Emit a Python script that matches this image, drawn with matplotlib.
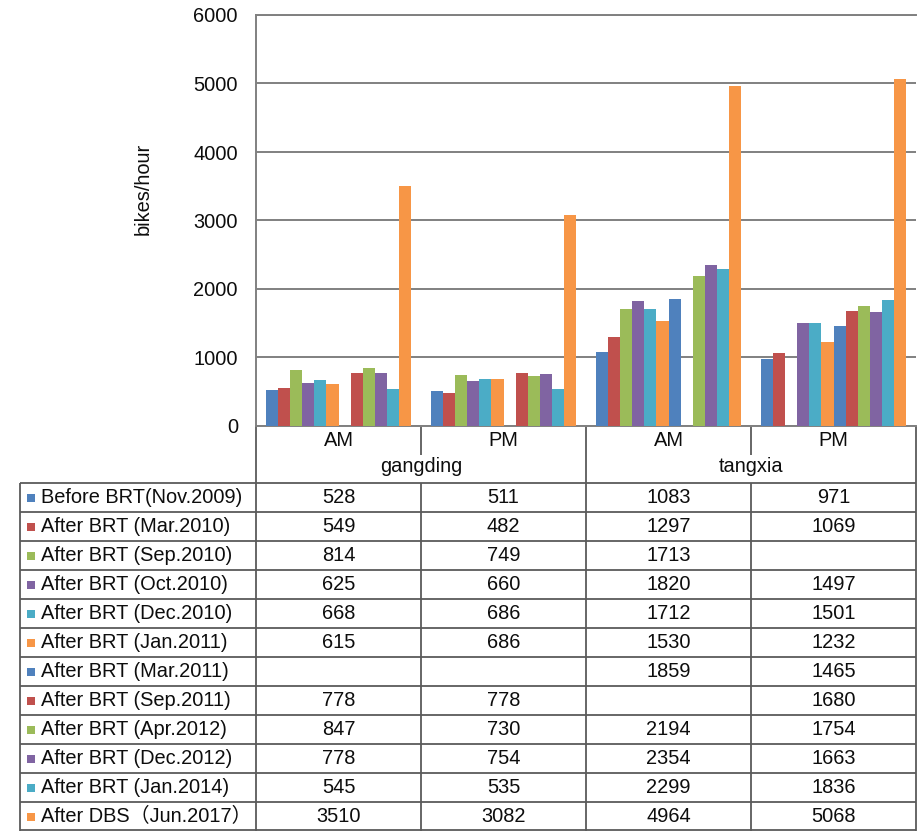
import numpy as np
import matplotlib
matplotlib.use("Agg")
import matplotlib.pyplot as plt
from matplotlib.patches import Rectangle

plt.rcParams['font.family'] = ['Liberation Sans', 'Noto Sans CJK SC', 'DejaVu Sans']

# ---- data -------------------------------------------------------------
sites = ["gangding", "tangxia"]
periods = ["AM", "PM", "AM", "PM"]

series_names = [
    "Before BRT(Nov.2009)",
    "After BRT (Mar.2010)",
    "After BRT (Sep.2010)",
    "After BRT (Oct.2010)",
    "After BRT (Dec.2010)",
    "After BRT (Jan.2011)",
    "After BRT (Mar.2011)",
    "After BRT (Sep.2011)",
    "After BRT (Apr.2012)",
    "After BRT (Dec.2012)",
    "After BRT (Jan.2014)",
    "After DBS（Jun.2017）",
]

before_nov2009 = [528, 511, 1083, 971]
after_mar2010 = [549, 482, 1297, 1069]
after_sep2010 = [814, 749, 1713, None]
after_oct2010 = [625, 660, 1820, 1497]
after_dec2010 = [668, 686, 1712, 1501]
after_jan2011 = [615, 686, 1530, 1232]
after_mar2011 = [None, None, 1859, 1465]
after_sep2011 = [778, 778, None, 1680]
after_apr2012 = [847, 730, 2194, 1754]
after_dec2012 = [778, 754, 2354, 1663]
after_jan2014 = [545, 535, 2299, 1836]
after_dbs_jun2017 = [3510, 3082, 4964, 5068]

series_values = [before_nov2009, after_mar2010, after_sep2010, after_oct2010,
                 after_dec2010, after_jan2011, after_mar2011, after_sep2011,
                 after_apr2012, after_dec2012, after_jan2014, after_dbs_jun2017]

palette = ['#4F81BD', '#C0504D', '#9BBB59', '#8064A2', '#4BACC6', '#F79646']
colors = palette * 2

# ---- layout (pixels) --------------------------------------------------
W, H = 922, 832
L, R = 256, 916
TOP, ZERO = 15, 426
CAT_ROW_BOTTOM = 455
TABLE_TOP = 483
TABLE_LEFT = 20
ROW_H = 29
GRID_C = '#808080'
TABLE_C = '#5a5a5a'
TXT_C = '#0d0d0d'
FS = 14.4

fig = plt.figure(figsize=(W / 100, H / 100), dpi=100)

# overlay in pixel coordinates for the category row and the data table
ov = fig.add_axes([0, 0, 1, 1])
ov.set_xlim(0, W)
ov.set_ylim(H, 0)
ov.axis('off')

ax = fig.add_axes([L / W, 1 - ZERO / H, (R - L) / W, (ZERO - TOP) / H])
ax.patch.set_alpha(0)
ax.set_xlim(-0.5, len(periods) - 0.5)
ax.set_ylim(0, 6000)
ax.set_yticks(np.arange(0, 6001, 1000))
ax.set_xticks([])
ax.yaxis.grid(True, color=GRID_C, lw=1.4)
ax.set_axisbelow(True)
ax.spines['right'].set_visible(False)
for s in ['left', 'bottom', 'top']:
    ax.spines[s].set_color(GRID_C)
    ax.spines[s].set_linewidth(1.4)
ax.tick_params(axis='y', length=0, pad=13, labelsize=FS, colors=TXT_C)

n = len(series_values)
slot = 0.88 / n
x = np.arange(len(periods))
for i, (vals, c) in enumerate(zip(series_values, colors)):
    xs = [xi + (i - (n - 1) / 2) * slot for xi, v in zip(x, vals) if v is not None]
    hs = [v for v in vals if v is not None]
    ax.bar(xs, hs, width=slot, color=c, edgecolor='none', zorder=3)

fig.text(143 / W, 1 - 189 / H, "bikes/hour", rotation=90, ha='center', va='center',
         fontsize=FS, color=TXT_C)

# category row
cat_w = (R - L) / len(periods)
cat_edges = [L + k * cat_w for k in range(len(periods) + 1)]
for k in range(len(periods)):
    ov.text((cat_edges[k] + cat_edges[k + 1]) / 2, 441, periods[k], ha='center', va='center',
            fontsize=FS, color=TXT_C)
for k, site in enumerate(sites):
    ov.text(cat_edges[2 * k + 1], 467, site, ha='center', va='center', fontsize=FS, color=TXT_C)

line_kw = dict(color=TABLE_C, lw=1.3, solid_capstyle='butt')
table_bottom = TABLE_TOP + ROW_H * len(series_names)
# major edges go all the way through
for ex in [cat_edges[0], cat_edges[2], cat_edges[4]]:
    ov.plot([ex, ex], [ZERO, table_bottom], **line_kw)
# minor edges: short tick in the category row, then through the table
for ex in [cat_edges[1], cat_edges[3]]:
    ov.plot([ex, ex], [ZERO, CAT_ROW_BOTTOM], **line_kw)
    ov.plot([ex, ex], [TABLE_TOP, table_bottom], **line_kw)
ov.plot([TABLE_LEFT, TABLE_LEFT], [TABLE_TOP, table_bottom], **line_kw)
for r in range(len(series_names) + 1):
    yy = TABLE_TOP + r * ROW_H
    if r == len(series_names):
        yy -= 0.7
    ov.plot([TABLE_LEFT, R], [yy, yy], **line_kw)

for r, (name, vals, c) in enumerate(zip(series_names, series_values, colors)):
    yc = TABLE_TOP + (r + 0.5) * ROW_H
    ov.add_patch(Rectangle((26.5, yc - 4), 8, 8, facecolor=c, edgecolor='none'))
    ov.text(41, yc, name, ha='left', va='center', fontsize=FS, color=TXT_C)
    for k, v in enumerate(vals):
        if v is None:
            continue
        ov.text((cat_edges[k] + cat_edges[k + 1]) / 2, yc, str(v), ha='center', va='center',
                fontsize=FS, color=TXT_C)

fig.savefig("out.png", dpi=100)
